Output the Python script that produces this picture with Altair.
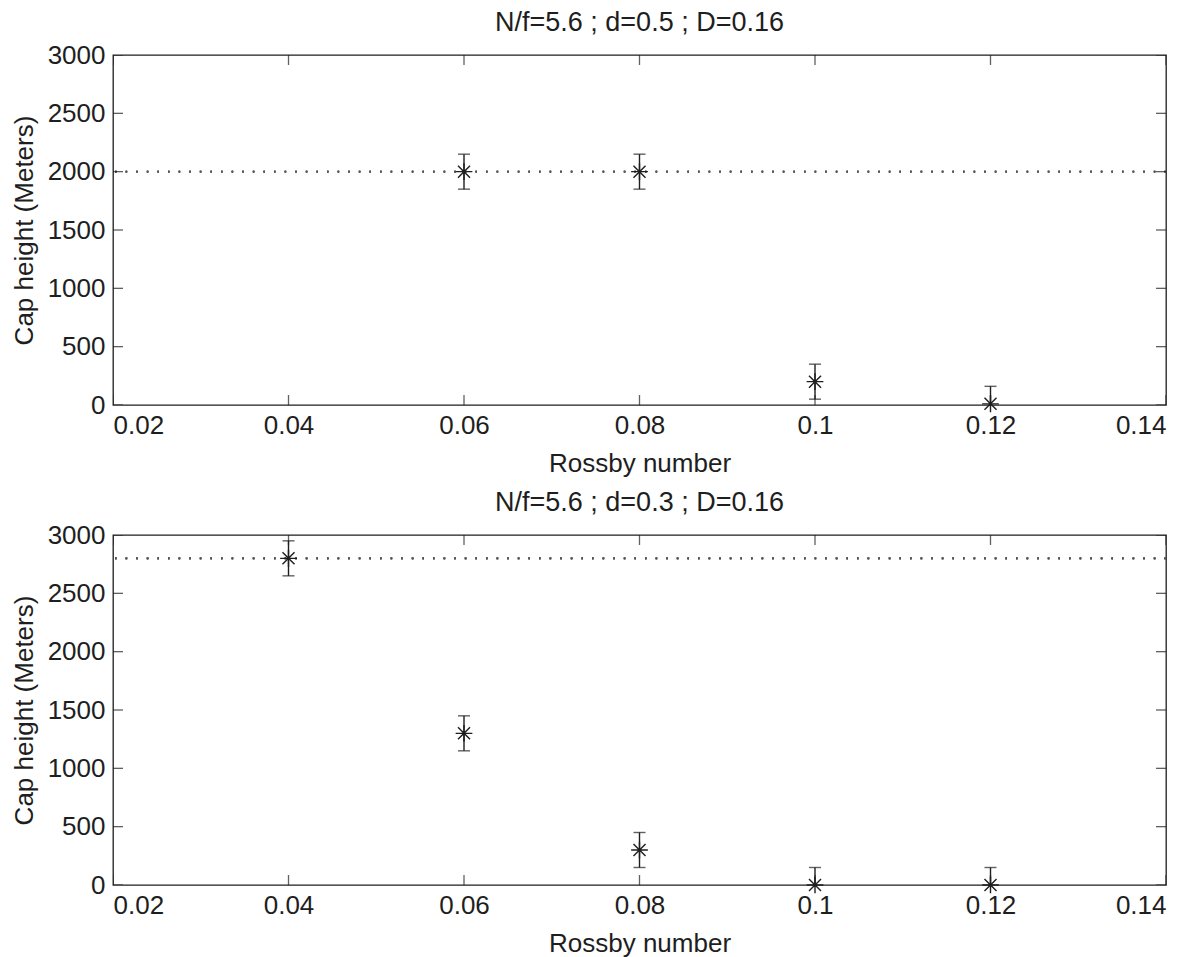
import altair as alt
import pandas as pd

# Cap height measurements for each run
rossby_top = [0.06, 0.08, 0.10, 0.12]
cap_top = [2000, 2000, 200, 10]
err_top = [150, 150, 150, 150]
ref_top = 2000

rossby_bot = [0.04, 0.06, 0.08, 0.10, 0.12]
cap_bot = [2800, 1300, 300, 0, 0]
err_bot = [150, 150, 150, 150, 150]
ref_bot = 2800

x_ticks = [0.02, 0.04, 0.06, 0.08, 0.10, 0.12, 0.14]
y_ticks = [0, 500, 1000, 1500, 2000, 2500, 3000]

title_top = "N/f=5.6 ; d=0.5 ; D=0.16"
title_bot = "N/f=5.6 ; d=0.3 ; D=0.16"

FONT = "Liberation Sans"
INK = "#1e1e1e"
STAR = "M0,-1L0,1M-1,0L1,0M-0.72,-0.72L0.72,0.72M-0.72,0.72L0.72,-0.72"

x_scale = alt.Scale(domain=[0.02, 0.14], nice=False, zero=False)
y_scale = alt.Scale(domain=[0, 3000], nice=False)

x_axis = alt.Axis(values=x_ticks, format="~g", title="Rossby number", grid=False,
                  ticks=False, domain=False, labelFontSize=26, labelPadding=7,
                  titleFontSize=26, titleFontWeight="normal", titlePadding=12,
                  labelFont=FONT, titleFont=FONT, labelColor=INK, titleColor=INK)
y_axis = alt.Axis(values=y_ticks, format="d", title="Cap height (Meters)", grid=False,
                  ticks=False, domain=False, labelFontSize=26, labelPadding=8,
                  titleFontSize=26, titleFontWeight="normal", titlePadding=10,
                  labelFont=FONT, titleFont=FONT, labelColor=INK, titleColor=INK)


def panel(xs, caps, errs, ref, title):
    df = pd.DataFrame({"rossby": xs, "cap": caps, "err": errs})
    base = alt.Chart(df).transform_calculate(
        lo="datum.cap - datum.err", hi="datum.cap + datum.err"
    )
    x = alt.X("rossby:Q", scale=x_scale, axis=x_axis)

    ref_line = alt.Chart(df).mark_rule(
        color="#555", strokeWidth=1.6, strokeDash=[1.6, 9]
    ).encode(y=alt.Y(datum=ref, scale=y_scale, axis=y_axis))

    bars = base.mark_rule(color=INK, strokeWidth=1.4, clip=True).encode(
        x=x, y=alt.Y("lo:Q", scale=y_scale, axis=y_axis), y2="hi:Q"
    )
    cap_lo = base.mark_tick(color=INK, orient="horizontal", size=12,
                            thickness=1.4, clip=True).encode(
        x=x, y=alt.Y("lo:Q", scale=y_scale, axis=y_axis))
    cap_hi = base.mark_tick(color=INK, orient="horizontal", size=12,
                            thickness=1.4, clip=True).encode(
        x=x, y=alt.Y("hi:Q", scale=y_scale, axis=y_axis))
    stars = base.mark_point(shape=STAR, size=280, filled=False, color=INK,
                            strokeWidth=1.4, opacity=1).encode(
        x=x, y=alt.Y("cap:Q", scale=y_scale, axis=y_axis))

    # inward-pointing tick marks on all four sides of the box
    xt = alt.Data(values=[{"t": v} for v in x_ticks])
    yt = alt.Data(values=[{"t": v} for v in y_ticks])
    tick_style = dict(color=INK, size=20, thickness=1.3, clip=True)
    tb = alt.Chart(xt).mark_tick(orient="vertical", **tick_style).encode(
        x=alt.X("t:Q", scale=x_scale, axis=x_axis),
        y=alt.Y(datum=0, scale=y_scale, axis=y_axis))
    tt = alt.Chart(xt).mark_tick(orient="vertical", **tick_style).encode(
        x=alt.X("t:Q", scale=x_scale, axis=x_axis),
        y=alt.Y(datum=3000, scale=y_scale, axis=y_axis))
    tl = alt.Chart(yt).mark_tick(orient="horizontal", **tick_style).encode(
        y=alt.Y("t:Q", scale=y_scale, axis=y_axis),
        x=alt.X(datum=0.02, scale=x_scale, axis=x_axis))
    tr = alt.Chart(yt).mark_tick(orient="horizontal", **tick_style).encode(
        y=alt.Y("t:Q", scale=y_scale, axis=y_axis),
        x=alt.X(datum=0.14, scale=x_scale, axis=x_axis))

    return alt.layer(ref_line, tb, tt, tl, tr, bars, cap_lo, cap_hi, stars).properties(
        width=1053, height=350,
        title=alt.TitleParams(title, font=FONT, fontSize=27, fontWeight="normal",
                              color=INK, offset=5),
    )


top = panel(rossby_top, cap_top, err_top, ref_top, title_top)
bot = panel(rossby_bot, cap_bot, err_bot, ref_bot, title_bot)

chart = alt.vconcat(top, bot, spacing=11).properties(
    padding={"left": 10, "top": 8, "right": 0, "bottom": 0},
    background="white",
).configure_view(stroke=INK, strokeWidth=1.3)

chart.save("out.html", embed_options={"renderer": "svg", "actions": False})
